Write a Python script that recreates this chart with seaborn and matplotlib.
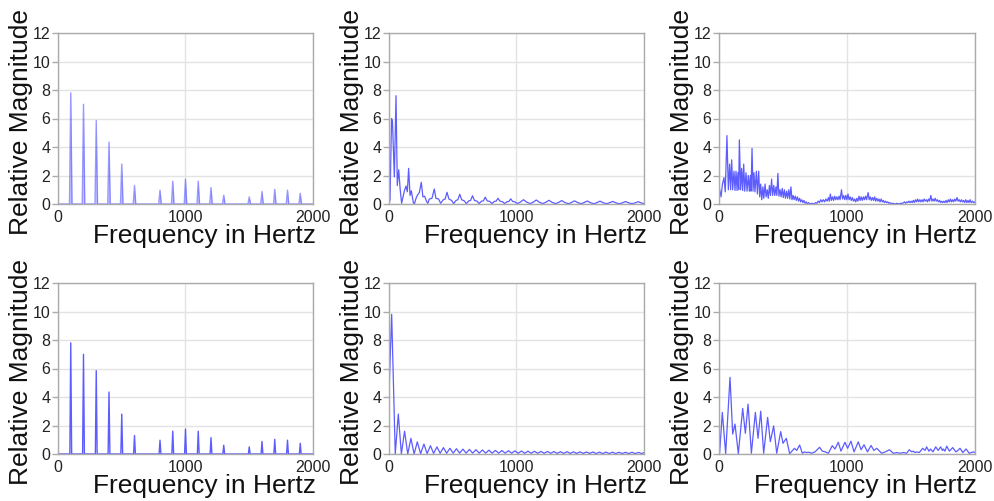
import numpy as np
import pandas as pd
import matplotlib
matplotlib.use("Agg")
import matplotlib.pyplot as plt
import seaborn as sns

# ---------------- data ----------------
harmonic_freqs = [100, 200, 300, 400, 500, 600, 800, 900, 1000, 1100, 1200, 1300,
                  1500, 1600, 1700, 1800, 1900]
harmonic_mags = [7.8, 7.0, 5.85, 4.35, 2.8, 1.3, 0.97, 1.6, 1.75, 1.6, 1.15, 0.62,
                 0.5, 0.88, 1.03, 0.97, 0.75]

# top middle: (frequency, magnitude)
spec_top_mid = [
    (0, 0.0), (8, 0.3), (20, 6.0), (27, 5.8), (42, 1.9), (55, 7.6), (65, 1.3),
    (76, 2.4), (88, 1.0), (99, 0.05), (120, 0.9), (133, 1.26), (144, 0.86),
    (154, 2.5), (165, 0.6), (175, 0.93), (191, 0.1), (199, 0.0), (212, 0.4),
    (222, 0.6), (238, 0.8), (253, 1.52), (266, 0.5), (279, 0.55), (296, 0.15),
    (305, 0.05), (316, 0.35), (337, 0.4), (355, 1.05), (368, 0.4), (389, 0.35),
    (405, 0.05), (426, 0.3), (440, 0.35), (455, 0.82), (470, 0.35), (491, 0.25),
    (507, 0.03), (526, 0.25), (540, 0.3), (555, 0.68), (570, 0.3), (590, 0.22),
    (607, 0.03), (626, 0.22), (640, 0.25), (655, 0.58), (670, 0.25), (690, 0.2),
    (707, 0.03), (726, 0.2), (740, 0.22), (755, 0.48), (770, 0.22), (790, 0.18),
    (807, 0.03), (826, 0.18), (840, 0.2), (855, 0.4), (870, 0.2), (890, 0.16),
    (907, 0.03), (926, 0.16), (940, 0.18), (955, 0.36), (970, 0.18), (990, 0.14),
    (1007, 0.03), (1030, 0.13), (1055, 0.3), (1080, 0.13), (1107, 0.03),
    (1130, 0.12), (1155, 0.28), (1180, 0.12), (1207, 0.03), (1230, 0.12),
    (1255, 0.26), (1280, 0.11), (1307, 0.03), (1330, 0.11), (1355, 0.24),
    (1380, 0.1), (1407, 0.02), (1430, 0.1), (1455, 0.22), (1480, 0.1),
    (1507, 0.02), (1530, 0.1), (1555, 0.21), (1580, 0.09), (1607, 0.02),
    (1630, 0.09), (1655, 0.2), (1680, 0.09), (1707, 0.02), (1730, 0.09),
    (1755, 0.18), (1780, 0.08), (1807, 0.02), (1830, 0.08), (1855, 0.17),
    (1880, 0.08), (1907, 0.02), (1930, 0.08), (1955, 0.16), (1980, 0.07),
    (2000, 0.03),
]

# top right
spec_top_right = [
    (0, 1.25), (8, 0.9), (16, 0.5), (27, 1.4), (39, 1.85), (49, 0.85), (62, 4.8),
    (73, 1.0), (83, 2.8), (91, 1.0), (99, 3.1), (107, 1.0), (117, 2.3), (125, 0.95),
    (133, 2.3), (141, 0.95), (148, 2.2), (154, 1.0), (159, 4.5), (169, 1.0),
    (177, 2.5), (185, 0.95), (193, 2.8), (201, 0.9), (211, 2.2), (219, 0.9),
    (229, 2.0), (237, 0.9), (245, 2.0), (250, 0.9), (258, 3.9), (266, 0.9),
    (273, 2.2), (281, 0.85), (292, 2.3), (300, 0.7), (310, 2.3), (318, 0.5),
    (326, 1.4), (334, 0.3), (343, 1.2), (350, 0.4), (360, 1.4), (368, 0.5),
    (377, 1.0), (385, 0.4), (394, 1.3), (402, 0.6), (411, 1.75), (419, 0.6),
    (428, 1.3), (436, 0.6), (445, 1.2), (452, 0.6), (460, 2.15), (468, 0.55),
    (477, 1.0), (485, 0.5), (494, 1.1), (502, 0.45), (511, 1.0), (519, 0.4),
    (528, 0.9), (536, 0.4), (545, 1.0), (553, 0.35), (562, 1.2), (570, 0.3),
    (579, 0.6), (587, 0.3), (596, 0.55), (604, 0.25), (613, 0.5), (621, 0.2),
    (630, 0.4), (638, 0.15), (647, 0.3), (655, 0.1), (664, 0.25), (672, 0.05),
    (681, 0.15), (690, 0.02), (700, 0.1), (710, 0.0), (725, 0.05), (740, 0.0),
    (755, 0.1), (765, 0.05), (775, 0.2), (785, 0.1), (795, 0.3), (805, 0.15),
    (815, 0.3), (825, 0.15), (835, 0.35), (845, 0.2), (855, 0.45), (862, 0.2),
    (870, 0.7), (878, 0.25), (887, 0.5), (895, 0.25), (904, 0.55), (912, 0.3),
    (921, 0.5), (929, 0.3), (938, 0.55), (946, 0.3), (957, 1.0), (965, 0.35),
    (974, 0.6), (982, 0.3), (991, 0.6), (999, 0.3), (1008, 0.7), (1016, 0.3),
    (1025, 0.5), (1033, 0.25), (1042, 0.45), (1050, 0.2), (1060, 0.35),
    (1068, 0.15), (1077, 0.4), (1085, 0.2), (1094, 0.55), (1102, 0.25),
    (1111, 0.5), (1119, 0.25), (1128, 0.5), (1136, 0.3), (1145, 0.55),
    (1153, 0.3), (1165, 0.8), (1173, 0.3), (1182, 0.5), (1190, 0.25),
    (1199, 0.45), (1207, 0.25), (1216, 0.5), (1224, 0.2), (1233, 0.4),
    (1241, 0.2), (1250, 0.35), (1258, 0.15), (1267, 0.35), (1275, 0.15),
    (1284, 0.25), (1292, 0.1), (1301, 0.2), (1309, 0.1), (1318, 0.15),
    (1326, 0.05), (1335, 0.1), (1345, 0.03), (1360, 0.05), (1375, 0.0),
    (1390, 0.05), (1405, 0.0), (1420, 0.05), (1435, 0.05), (1450, 0.15),
    (1458, 0.05), (1467, 0.15), (1475, 0.1), (1484, 0.2), (1492, 0.1),
    (1501, 0.2), (1509, 0.1), (1518, 0.25), (1526, 0.1), (1535, 0.3),
    (1543, 0.15), (1552, 0.35), (1560, 0.15), (1569, 0.3), (1577, 0.15),
    (1586, 0.3), (1594, 0.15), (1603, 0.35), (1611, 0.2), (1620, 0.3),
    (1628, 0.15), (1637, 0.35), (1645, 0.2), (1655, 0.6), (1663, 0.2),
    (1672, 0.35), (1680, 0.2), (1689, 0.4), (1697, 0.2), (1706, 0.3),
    (1714, 0.15), (1723, 0.25), (1731, 0.1), (1740, 0.2), (1748, 0.1),
    (1757, 0.2), (1765, 0.1), (1774, 0.25), (1782, 0.1), (1791, 0.3),
    (1799, 0.15), (1808, 0.35), (1816, 0.15), (1825, 0.3), (1833, 0.15),
    (1842, 0.35), (1850, 0.2), (1860, 0.45), (1868, 0.2), (1877, 0.3),
    (1885, 0.15), (1894, 0.3), (1902, 0.15), (1911, 0.25), (1919, 0.1),
    (1928, 0.3), (1936, 0.1), (1945, 0.25), (1953, 0.1), (1962, 0.3),
    (1970, 0.1), (1979, 0.2), (1987, 0.1), (1996, 0.15), (2000, 0.1),
]

# bottom middle
spec_bottom_mid = [
    (0, 4.3), (21, 9.8), (49, 0.0), (73, 2.8), (97, 0.0), (122, 1.6), (147, 0.0),
    (172, 1.1), (197, 0.0), (222, 0.85), (248, 0.02), (274, 0.7), (299, 0.03),
    (325, 0.58), (350, 0.04), (376, 0.5), (401, 0.05), (427, 0.45), (452, 0.05),
    (478, 0.4), (503, 0.06), (529, 0.37), (554, 0.06), (580, 0.34), (605, 0.06),
    (631, 0.32), (656, 0.06), (682, 0.3), (707, 0.06), (733, 0.28), (758, 0.06),
    (784, 0.27), (809, 0.06), (835, 0.25), (860, 0.06), (886, 0.24), (911, 0.06),
    (937, 0.23), (962, 0.06), (988, 0.22), (1013, 0.05), (1039, 0.21),
    (1064, 0.05), (1090, 0.2), (1115, 0.05), (1141, 0.19), (1166, 0.05),
    (1192, 0.18), (1217, 0.05), (1243, 0.18), (1268, 0.05), (1294, 0.17),
    (1319, 0.04), (1345, 0.16), (1370, 0.04), (1396, 0.16), (1421, 0.04),
    (1447, 0.15), (1472, 0.04), (1498, 0.15), (1523, 0.04), (1549, 0.14),
    (1574, 0.04), (1600, 0.14), (1625, 0.03), (1651, 0.13), (1676, 0.03),
    (1702, 0.13), (1727, 0.03), (1753, 0.13), (1778, 0.03), (1804, 0.12),
    (1829, 0.03), (1855, 0.12), (1880, 0.03), (1906, 0.12), (1931, 0.03),
    (1957, 0.11), (1982, 0.03), (2000, 0.1),
]

# bottom right
spec_bottom_right = [
    (0, 0.0), (5, 0.1), (26, 2.92), (52, 0.02), (86, 5.38), (107, 1.4), (125, 2.1),
    (151, 0.02), (185, 3.2), (206, 1.45), (227, 3.5), (253, 0.05), (284, 2.92),
    (305, 1.1), (326, 3.0), (349, 0.05), (380, 2.57), (401, 0.87), (427, 1.97),
    (451, 0.05), (482, 1.57), (500, 0.75), (526, 1.1), (552, 0.02), (589, 0.4),
    (607, 0.25), (630, 0.63), (651, 0.05), (668, 0.15), (685, 0.1), (705, 0.12),
    (724, 0.05), (750, 0.15), (786, 0.47), (807, 0.2), (830, 0.15), (854, 0.05),
    (885, 0.58), (906, 0.35), (932, 0.82), (953, 0.2), (984, 0.82), (1005, 0.4),
    (1031, 0.9), (1055, 0.15), (1088, 0.85), (1110, 0.3), (1133, 0.65),
    (1160, 0.15), (1188, 0.6), (1210, 0.25), (1232, 0.4), (1271, 0.05),
    (1300, 0.15), (1331, 0.3), (1362, 0.05), (1390, 0.1), (1414, 0.05),
    (1440, 0.1), (1466, 0.05), (1487, 0.3), (1505, 0.15), (1518, 0.2),
    (1530, 0.1), (1544, 0.15), (1565, 0.1), (1591, 0.4), (1610, 0.25),
    (1622, 0.5), (1640, 0.2), (1653, 0.35), (1672, 0.15), (1693, 0.5),
    (1712, 0.25), (1732, 0.5), (1745, 0.25), (1753, 0.35), (1765, 0.2),
    (1779, 0.55), (1800, 0.2), (1826, 0.45), (1850, 0.15), (1860, 0.2),
    (1883, 0.4), (1905, 0.1), (1930, 0.35), (1955, 0.05), (1987, 0.15),
    (2000, 0.1),
]

x_ticks = [0, 1000, 2000]
y_ticks = [0, 2, 4, 6, 8, 10, 12]
x_label = "Frequency in Hertz"
y_label = "Relative Magnitude"

# ---------------- styling ----------------
sns.set_theme(style="whitegrid")
plt.rcParams['font.family'] = ['Liberation Sans', 'DejaVu Sans']

LINE = '#4a4aff'
FIG_W, FIG_H = 995, 501
col_left = [58, 389, 719]
col_width = [255, 255, 256]
row_top = [33, 283]
ax_h = 171

fig = plt.figure(figsize=(FIG_W / 100, FIG_H / 100), dpi=100)
fig.patch.set_facecolor('white')


def make_ax(row, col):
    l = col_left[col] / FIG_W
    b = 1 - (row_top[row] + ax_h) / FIG_H
    return fig.add_axes([l, b, col_width[col] / FIG_W, ax_h / FIG_H])


def style(ax):
    ax.set_xlim(0, 2000)
    ax.set_ylim(0, 12)
    ax.set_xticks(x_ticks)
    ax.set_yticks(y_ticks)
    ax.set_facecolor('white')
    ax.grid(True, color='#e3e3e3', linewidth=1.0)
    ax.set_axisbelow(True)
    for s in ax.spines.values():
        s.set_visible(True)
        s.set_color('#ababab')
        s.set_linewidth(1.0)
    ax.tick_params(axis='y', left=True, length=4, width=1, color='#ababab', pad=1.5,
                   labelsize=11.5, labelcolor='#222222')
    ax.tick_params(axis='x', length=0, pad=4.0, labelsize=11.5, labelcolor='#222222')
    ax.set_xlabel(x_label, fontsize=19, color='#111111')
    ax.set_ylabel(y_label, fontsize=19, color='#111111')
    ax.xaxis.set_label_coords(0.573, -0.118)
    ax.yaxis.set_label_coords(-0.097, 0.477)


def harmonic_frame(freqs, mags, half=8):
    xs, ys = [0], [0]
    for f, m in zip(freqs, mags):
        xs += [f - half, f, f + half]
        ys += [0, m, 0]
    xs.append(2000)
    ys.append(0)
    return pd.DataFrame({'freq': xs, 'mag': ys})


def pairs_frame(pairs):
    f, m = zip(*pairs)
    return pd.DataFrame({'freq': f, 'mag': m})


panels = {
    (0, 0): ('harm_fill', harmonic_frame(harmonic_freqs, harmonic_mags, half=10)),
    (0, 1): ('line', pairs_frame(spec_top_mid)),
    (0, 2): ('line', pairs_frame(spec_top_right)),
    (1, 0): ('harm', harmonic_frame(harmonic_freqs, harmonic_mags, half=7)),
    (1, 1): ('line', pairs_frame(spec_bottom_mid)),
    (1, 2): ('line', pairs_frame(spec_bottom_right)),
}

for (r, c), (kind, df) in panels.items():
    ax = make_ax(r, c)
    if kind == 'harm_fill':
        ax.fill_between(df['freq'], 0, df['mag'], color=LINE, alpha=0.3, linewidth=0)
        sns.lineplot(data=df, x='freq', y='mag', ax=ax, color=LINE, linewidth=1.0,
                     alpha=0.55, estimator=None, sort=False)
    elif kind == 'harm':
        sns.lineplot(data=df, x='freq', y='mag', ax=ax, color=LINE, linewidth=1.0,
                     alpha=0.9, estimator=None, sort=False)
    else:
        sns.lineplot(data=df, x='freq', y='mag', ax=ax, color=LINE, linewidth=0.9,
                     alpha=0.9, estimator=None, sort=False)
    style(ax)

fig.savefig('out.png', dpi=100, facecolor='white')
